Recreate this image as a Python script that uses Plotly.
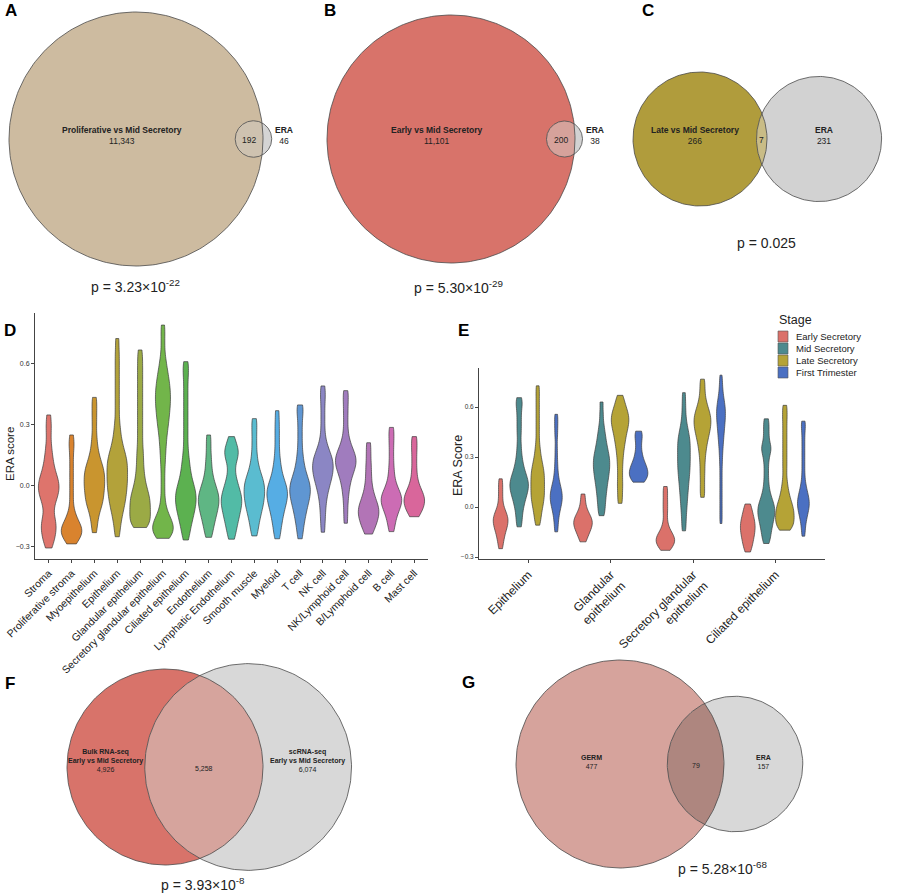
import numpy as np
import plotly.graph_objects as go

# ---------------- Venn panels (A, B, C, F, G) ----------------
VENN_LEFT_LABELS = ["Proliferative vs Mid Secretory", "Early vs Mid Secretory", "Late vs Mid Secretory",
                    "Bulk RNA-seq<br>Early vs Mid Secretory", "GERM"]
VENN_RIGHT_LABELS = ["ERA", "ERA", "ERA", "scRNA-seq<br>Early vs Mid Secretory", "ERA"]
VENN_LEFT_ONLY = [11343, 11101, 266, 4926, 477]
VENN_BOTH = [192, 200, 7, 5258, 79]
VENN_RIGHT_ONLY = [46, 38, 231, 6074, 157]
VENN_P = ["3.23×10<sup>-22</sup>", "5.30×10<sup>-29</sup>", "0.025", "3.93×10<sup>-8</sup>", "5.28×10<sup>-68</sup>"]

# ---------------- D: ERA score per cell type ----------------
D_CELLS = ["Stroma", "Proliferative stroma", "Myoepithelium", "Epithelium", "Glandular epithelium",
           "Secretory glandular epithelium", "Ciliated epithelium", "Endothelium", "Lymphatic Endothelium",
           "Smooth muscle", "Myeloid", "T cell", "NK cell", "NK/Lymphoid cell", "B/Lymphoid cell", "B cell",
           "Mast cell"]

d_stroma = [-0.305, -0.28, -0.26, -0.243, -0.228, -0.214, -0.2, -0.186, -0.172, -0.158, -0.135, -0.11, -0.09,
            -0.074, -0.06, -0.048, -0.037, -0.027, -0.017, -0.007, 0.003, 0.013, 0.023, 0.034, 0.046, 0.06, 0.076,
            0.095, 0.117, 0.142, 0.172, 0.21, 0.26, 0.3, 0.346]
d_prolif = [-0.285, -0.27, -0.258, -0.249, -0.241, -0.234, -0.227, -0.22, -0.213, -0.206, -0.198, -0.189, -0.178,
            -0.164, -0.145, -0.12, -0.07, -0.02, 0.03, 0.08, 0.13, 0.18, 0.21, 0.248]
d_myo = [-0.23, -0.19, -0.16, -0.135, -0.115, -0.1, -0.088, -0.077, -0.066, -0.054, -0.042, -0.031, -0.021, -0.011,
         -0.001, 0.009, 0.019, 0.029, 0.039, 0.049, 0.059, 0.069, 0.079, 0.09, 0.102, 0.116, 0.132, 0.152, 0.178,
         0.21, 0.25, 0.3, 0.345, 0.39, 0.432]
d_epi = [-0.25, -0.21, -0.18, -0.155, -0.135, -0.118, -0.103, -0.089, -0.076, -0.064, -0.052, -0.041, -0.03, -0.019,
         -0.008, 0.002, 0.012, 0.022, 0.032, 0.042, 0.052, 0.062, 0.072, 0.082, 0.092, 0.102, 0.112, 0.122, 0.132,
         0.143, 0.155, 0.168, 0.183, 0.2, 0.22, 0.245, 0.275, 0.31, 0.36, 0.41, 0.46, 0.51, 0.56, 0.61, 0.66, 0.72]
d_gland = [-0.205, -0.198, -0.19, -0.181, -0.171, -0.161, -0.151, -0.141, -0.131, -0.121, -0.111, -0.101, -0.091,
           -0.081, -0.071, -0.061, -0.051, -0.04, -0.028, -0.014, 0.002, 0.02, 0.04, 0.065, 0.09, 0.12, 0.15, 0.18,
           0.22, 0.26, 0.3, 0.34, 0.38, 0.42, 0.46, 0.5, 0.54, 0.58, 0.62, 0.664]
d_secr = [-0.258, -0.25, -0.242, -0.234, -0.226, -0.218, -0.21, -0.202, -0.194, -0.186, -0.178, -0.169, -0.158,
          -0.144, -0.125, -0.1, -0.06, -0.01, 0.04, 0.09, 0.13, 0.165, 0.195, 0.222, 0.246, 0.268, 0.286, 0.303,
          0.319, 0.334, 0.348, 0.362, 0.375, 0.388, 0.4, 0.412, 0.424, 0.436, 0.448, 0.46, 0.472, 0.485, 0.498,
          0.512, 0.527, 0.543, 0.561, 0.582, 0.607, 0.64, 0.69, 0.74, 0.786]
d_cil = [-0.266, -0.235, -0.21, -0.19, -0.172, -0.157, -0.143, -0.13, -0.118, -0.107, -0.096, -0.086, -0.076,
         -0.066, -0.056, -0.046, -0.036, -0.026, -0.015, -0.003, 0.01, 0.025, 0.042, 0.062, 0.085, 0.11, 0.14, 0.18,
         0.23, 0.28, 0.33, 0.38, 0.43, 0.48, 0.53, 0.57, 0.607]
d_endo = [-0.253, -0.225, -0.2, -0.18, -0.163, -0.148, -0.134, -0.121, -0.109, -0.098, -0.087, -0.077, -0.067,
          -0.057, -0.047, -0.036, -0.024, -0.011, 0.004, 0.022, 0.045, 0.075, 0.11, 0.15, 0.2, 0.248]
d_lymph = [-0.262, -0.23, -0.205, -0.184, -0.166, -0.15, -0.135, -0.121, -0.108, -0.096, -0.085, -0.074, -0.063,
           -0.052, -0.04, -0.027, -0.012, 0.005, 0.025, 0.05, 0.085, 0.12, 0.14, 0.155, 0.17, 0.185, 0.205, 0.24]
d_smooth = [-0.246, -0.215, -0.19, -0.168, -0.15, -0.134, -0.12, -0.107, -0.095, -0.084, -0.073, -0.062, -0.052,
            -0.042, -0.032, -0.022, -0.012, -0.002, 0.008, 0.018, 0.029, 0.041, 0.055, 0.072, 0.093, 0.12, 0.155,
            0.2, 0.245, 0.29, 0.328]
d_myeloid = [-0.26, -0.225, -0.197, -0.174, -0.154, -0.136, -0.12, -0.106, -0.093, -0.081, -0.07, -0.06, -0.05,
             -0.04, -0.03, -0.02, -0.01, 0.001, 0.013, 0.027, 0.044, 0.065, 0.09, 0.12, 0.16, 0.21, 0.26, 0.31,
             0.367]
d_tcell = [-0.26, -0.22, -0.19, -0.165, -0.145, -0.127, -0.111, -0.096, -0.083, -0.071, -0.06, -0.049, -0.039,
           -0.029, -0.019, -0.009, 0.001, 0.011, 0.022, 0.034, 0.048, 0.065, 0.085, 0.11, 0.14, 0.18, 0.23, 0.28,
           0.33, 0.37, 0.395]
d_nk = [-0.228, -0.18, -0.14, -0.105, -0.075, -0.05, -0.03, -0.013, 0.002, 0.015, 0.027, 0.038, 0.048, 0.058,
        0.067, 0.076, 0.085, 0.094, 0.103, 0.112, 0.121, 0.13, 0.14, 0.15, 0.162, 0.177, 0.196, 0.22, 0.26, 0.31,
        0.36, 0.41, 0.45, 0.488]
d_nklymph = [-0.184, -0.13, -0.08, -0.04, -0.01, 0.015, 0.035, 0.052, 0.066, 0.078, 0.089, 0.099, 0.108, 0.117,
             0.126, 0.135, 0.144, 0.154, 0.165, 0.178, 0.194, 0.215, 0.245, 0.29, 0.34, 0.385, 0.43, 0.465]
d_blymph = [-0.237, -0.215, -0.198, -0.183, -0.17, -0.158, -0.147, -0.137, -0.127, -0.117, -0.107, -0.096, -0.084,
            -0.07, -0.053, -0.032, -0.005, 0.03, 0.07, 0.11, 0.16, 0.21]
d_bcell = [-0.225, -0.19, -0.163, -0.142, -0.125, -0.111, -0.099, -0.089, -0.08, -0.071, -0.062, -0.053, -0.043,
           -0.032, -0.018, 0.0, 0.025, 0.06, 0.1, 0.15, 0.2, 0.245, 0.285]
d_mast = [-0.152, -0.135, -0.121, -0.109, -0.098, -0.088, -0.079, -0.07, -0.061, -0.052, -0.042, -0.03, -0.015,
          0.005, 0.035, 0.075, 0.12, 0.165, 0.205, 0.24]

# ---------------- E: ERA score by stage ----------------
E_CELLS = ["Epithelium", "Glandular epithelium", "Secretory glandular epithelium", "Ciliated epithelium"]
E_TICKS = ["Epithelium", "Glandular<br>epithelium", "Secretory glandular<br>epithelium", "Ciliated epithelium"]
E_STAGES = ["Early Secretory", "Mid Secretory", "Late Secretory", "First Trimester"]

e_epi_early = [-0.25, -0.215, -0.188, -0.166, -0.148, -0.133, -0.12, -0.108, -0.097, -0.087, -0.077, -0.067,
               -0.057, -0.046, -0.033, -0.016, 0.01, 0.05, 0.09, 0.13, 0.169]
e_epi_mid = [-0.119, -0.08, -0.045, -0.015, 0.01, 0.03, 0.048, 0.064, 0.078, 0.091, 0.103, 0.114, 0.125, 0.136,
             0.147, 0.158, 0.17, 0.183, 0.198, 0.215, 0.235, 0.26, 0.29, 0.33, 0.38, 0.44, 0.49, 0.54, 0.59, 0.625,
             0.656]
e_epi_late = [-0.109, -0.08, -0.055, -0.033, -0.014, 0.003, 0.018, 0.032, 0.045, 0.057, 0.069, 0.081, 0.093,
              0.105, 0.117, 0.129, 0.141, 0.153, 0.165, 0.177, 0.189, 0.201, 0.213, 0.226, 0.24, 0.255, 0.272,
              0.292, 0.316, 0.345, 0.38, 0.43, 0.48, 0.53, 0.58, 0.63, 0.68, 0.727]
e_epi_first = [-0.149, -0.11, -0.075, -0.048, -0.026, -0.008, 0.007, 0.02, 0.032, 0.043, 0.054, 0.065, 0.076,
               0.087, 0.099, 0.112, 0.127, 0.145, 0.168, 0.2, 0.24, 0.29, 0.35, 0.42, 0.47, 0.515, 0.556]
e_gland_early = [-0.209, -0.18, -0.16, -0.143, -0.129, -0.117, -0.106, -0.096, -0.086, -0.076, -0.065, -0.052,
                 -0.035, -0.01, 0.03, 0.078]
e_gland_mid = [-0.052, -0.02, 0.01, 0.038, 0.063, 0.086, 0.107, 0.127, 0.145, 0.162, 0.178, 0.193, 0.207, 0.221,
               0.234, 0.247, 0.26, 0.273, 0.286, 0.299, 0.313, 0.328, 0.344, 0.362, 0.382, 0.405, 0.43, 0.46, 0.5,
               0.56, 0.63]
e_gland_late = [0.022, 0.07, 0.115, 0.155, 0.2, 0.245, 0.285, 0.32, 0.35, 0.375, 0.397, 0.417, 0.435, 0.452,
                0.467, 0.481, 0.494, 0.506, 0.518, 0.53, 0.542, 0.554, 0.567, 0.581, 0.597, 0.617, 0.64, 0.67]
e_gland_first = [0.149, 0.158, 0.167, 0.176, 0.185, 0.194, 0.203, 0.212, 0.221, 0.23, 0.24, 0.251, 0.264, 0.28,
                 0.3, 0.325, 0.355, 0.39, 0.42, 0.44, 0.455]
e_secr_early = [-0.26, -0.245, -0.233, -0.223, -0.214, -0.206, -0.198, -0.19, -0.182, -0.173, -0.162, -0.148,
                -0.125, -0.09, -0.04, 0.0, 0.04, 0.085, 0.123]
e_secr_mid = [-0.143, -0.1, -0.06, -0.025, 0.005, 0.032, 0.057, 0.08, 0.101, 0.121, 0.14, 0.158, 0.175, 0.191,
              0.206, 0.221, 0.236, 0.25, 0.264, 0.278, 0.292, 0.306, 0.32, 0.334, 0.348, 0.362, 0.376, 0.39, 0.404,
              0.419, 0.435, 0.453, 0.474, 0.5, 0.535, 0.58, 0.63, 0.686]
e_secr_late = [0.058, 0.1, 0.145, 0.19, 0.23, 0.27, 0.305, 0.335, 0.36, 0.382, 0.401, 0.418, 0.433, 0.447, 0.46,
               0.472, 0.484, 0.495, 0.506, 0.517, 0.528, 0.539, 0.55, 0.562, 0.575, 0.59, 0.607, 0.628, 0.655, 0.69,
               0.73, 0.767]
e_secr_first = [-0.099, -0.05, 0.0, 0.05, 0.1, 0.15, 0.2, 0.25, 0.29, 0.325, 0.355, 0.38, 0.402, 0.422, 0.44,
                0.457, 0.473, 0.488, 0.502, 0.515, 0.528, 0.54, 0.552, 0.564, 0.576, 0.588, 0.6, 0.613, 0.627,
                0.643, 0.662, 0.685, 0.715, 0.75, 0.791]
e_cil_early = [-0.27, -0.245, -0.225, -0.207, -0.191, -0.176, -0.162, -0.149, -0.137, -0.125, -0.113, -0.101,
               -0.089, -0.076, -0.062, -0.046, -0.027, -0.005, 0.018]
e_cil_mid = [-0.219, -0.19, -0.165, -0.143, -0.123, -0.105, -0.089, -0.074, -0.06, -0.047, -0.035, -0.023, -0.011,
             0.001, 0.014, 0.028, 0.044, 0.064, 0.09, 0.125, 0.17, 0.22, 0.27, 0.31, 0.34, 0.355, 0.37, 0.41, 0.45,
             0.49, 0.529]
e_cil_late = [-0.139, -0.128, -0.117, -0.106, -0.095, -0.084, -0.073, -0.062, -0.051, -0.04, -0.029, -0.018,
              -0.007, 0.005, 0.018, 0.033, 0.05, 0.07, 0.095, 0.125, 0.165, 0.22, 0.27, 0.32, 0.37, 0.42, 0.47,
              0.52, 0.565, 0.61]
e_cil_first = [-0.175, -0.135, -0.1, -0.075, -0.055, -0.038, -0.024, -0.011, 0.001, 0.012, 0.023, 0.034, 0.045,
               0.057, 0.07, 0.085, 0.103, 0.125, 0.155, 0.2, 0.25, 0.3, 0.35, 0.4, 0.45, 0.49, 0.515]

D_SAMPLES = [d_stroma, d_prolif, d_myo, d_epi, d_gland, d_secr, d_cil, d_endo, d_lymph, d_smooth, d_myeloid,
             d_tcell, d_nk, d_nklymph, d_blymph, d_bcell, d_mast]
E_SAMPLES = [
    [e_epi_early, e_gland_early, e_secr_early, e_cil_early],
    [e_epi_mid, e_gland_mid, e_secr_mid, e_cil_mid],
    [e_epi_late, e_gland_late, e_secr_late, e_cil_late],
    [e_epi_first, e_gland_first, e_secr_first, e_cil_first],
]

D_COLORS = ["#DE746C", "#D9832E", "#C9952F", "#B3A23A", "#9BAA45", "#72B54A", "#5CB150", "#5FB684", "#52BBA6",
            "#5ABCD0", "#56ADE4", "#5F96D2", "#8B86C4", "#A07CBE", "#B274B6", "#CC6CB4", "#D9669B"]
E_COLORS = ["#DB716A", "#4D8A8E", "#B5A336", "#4B70C2"]

FONT = "Liberation Sans, Arial, sans-serif"
OUTLINE = "#3c3c3c"
W, H = 900, 896
BW = 0.033

fig = go.Figure()

# ---------------- violins ----------------
for cell, vals, col in zip(D_CELLS, D_SAMPLES, D_COLORS):
    fig.add_trace(go.Violin(
        x=[cell] * len(vals), y=vals, xaxis="x", yaxis="y",
        fillcolor=col, line=dict(color=OUTLINE, width=0.7), opacity=1,
        points=False, spanmode="hard", bandwidth=BW, scalemode="width",
        offsetgroup="d", alignmentgroup="d", showlegend=False, hoverinfo="skip",
    ))

for stage, per_cell, col in zip(E_STAGES, E_SAMPLES, E_COLORS):
    xs, ys = [], []
    for cell, vals in zip(E_CELLS, per_cell):
        xs += [cell] * len(vals)
        ys += vals
    fig.add_trace(go.Violin(
        x=xs, y=ys, xaxis="x2", yaxis="y2", name=stage,
        fillcolor=col, line=dict(color=OUTLINE, width=0.7), opacity=1,
        points=False, spanmode="hard", bandwidth=BW, scalemode="width",
        offsetgroup=stage, alignmentgroup="e", showlegend=False, hoverinfo="skip",
    ))


# ---------------- area-proportional Venns (pixel overlay axis x3/y3) ----------------
def lens_area(d, r1, r2):
    if d >= r1 + r2:
        return 0.0
    if d <= abs(r1 - r2):
        return np.pi * min(r1, r2) ** 2
    a1 = r1 ** 2 * np.arccos((d * d + r1 * r1 - r2 * r2) / (2 * d * r1))
    a2 = r2 ** 2 * np.arccos((d * d + r2 * r2 - r1 * r1) / (2 * d * r2))
    k = 0.5 * np.sqrt((-d + r1 + r2) * (d + r1 - r2) * (d - r1 + r2) * (d + r1 + r2))
    return a1 + a2 - k


def solve_distance(r1, r2, target):
    lo, hi = abs(r1 - r2), r1 + r2
    for _ in range(80):
        mid = (lo + hi) / 2
        if lens_area(mid, r1, r2) > target:
            lo = mid
        else:
            hi = mid
    return (lo + hi) / 2


# layout of each venn: left circle centre, left radius (px), label font size, outside right label,
# p-value position, colours (left, right, overlap)
venn_layout = [
    dict(cx=136, cy=139, R=127, fs=8.5, outside=True, p=(135, 286), cols=("#CDBBA0", "#D4D4D4", "#CEC2B0")),
    dict(cx=451, cy=139, R=124, fs=8.5, outside=True, p=(458, 287), cols=("#D8736A", "#D2D2D2", "#D6A29B")),
    dict(cx=700, cy=139, R=67, fs=8.5, outside=False, p=(766, 243), cols=("#B09C3C", "#D2D2D2", "#C9BC86")),
    dict(cx=165, cy=767, R=98, fs=7, outside=False, p=(203, 884), cols=("#D8736A", "#D8D8D8", "#D6A49D")),
    dict(cx=620, cy=764, R=104, fs=7, outside=False, p=(722, 868), cols=("#D6A39C", "#D8D8D8", "#AE867F")),
]

annotations = []
ang = np.linspace(0, 2 * np.pi, 241)
for i, lay in enumerate(venn_layout):
    n1 = VENN_LEFT_ONLY[i] + VENN_BOTH[i]
    n2 = VENN_RIGHT_ONLY[i] + VENN_BOTH[i]
    r1 = lay["R"]
    r2 = r1 * np.sqrt(n2 / n1)
    d = solve_distance(r1, r2, np.pi * r1 ** 2 * VENN_BOTH[i] / n1)
    x1, cy = lay["cx"], lay["cy"]
    x2 = x1 + d
    c1, c2, c12 = lay["cols"]

    fig.add_trace(go.Scatter(x=x1 + r1 * np.cos(ang), y=cy + r1 * np.sin(ang), fill="toself", fillcolor=c1,
                             mode="lines", line=dict(width=0), xaxis="x3", yaxis="y3", showlegend=False,
                             hoverinfo="skip"))
    fig.add_trace(go.Scatter(x=x2 + r2 * np.cos(ang), y=cy + r2 * np.sin(ang), fill="toself", fillcolor=c2,
                             mode="lines", line=dict(width=0), xaxis="x3", yaxis="y3", showlegend=False,
                             hoverinfo="skip"))
    a = (d * d + r1 * r1 - r2 * r2) / (2 * d)
    h = np.sqrt(max(r1 * r1 - a * a, 0))
    t1 = np.arctan2(h, a)
    t2 = np.arctan2(h, d - a)
    arc1 = np.linspace(-t1, t1, 120)
    arc2 = np.linspace(np.pi - t2, np.pi + t2, 120)
    lx = np.concatenate([x1 + r1 * np.cos(arc1), x2 + r2 * np.cos(arc2)])
    ly = np.concatenate([cy + r1 * np.sin(arc1), cy + r2 * np.sin(arc2)])
    fig.add_trace(go.Scatter(x=lx, y=ly, fill="toself", fillcolor=c12, mode="lines", line=dict(width=0),
                             xaxis="x3", yaxis="y3", showlegend=False, hoverinfo="skip"))
    for xc, rc in ((x1, r1), (x2, r2)):
        fig.add_trace(go.Scatter(x=xc + rc * np.cos(ang), y=cy + rc * np.sin(ang), mode="lines",
                                 line=dict(color="#4a4a4a", width=0.8), xaxis="x3", yaxis="y3",
                                 showlegend=False, hoverinfo="skip"))

    fs = lay["fs"]
    lh = 1.25 * fs
    left_txt = VENN_LEFT_LABELS[i]
    right_txt = VENN_RIGHT_LABELS[i]
    nl = left_txt.count("<br>") + 2
    nr = right_txt.count("<br>") + 2
    left_x = ((x1 - r1) + (x2 - r2)) / 2
    right_x = ((x1 + r1) + (x2 + r2)) / 2
    mid_x = ((x2 - r2) + (x1 + r1)) / 2
    lbl = "<b>" + left_txt.replace("<br>", "</b><br><b>") + "</b><br>" + f"{VENN_LEFT_ONLY[i]:,}"
    annotations.append(dict(x=left_x, y=cy + 2 - (nl - 1) * lh / 2, text=lbl, showarrow=False,
                            xref="x3", yref="y3", xanchor="center", yanchor="middle",
                            font=dict(size=fs, color="#222", family=FONT)))
    rbl = "<b>" + right_txt.replace("<br>", "</b><br><b>") + "</b><br>" + f"{VENN_RIGHT_ONLY[i]:,}"
    if lay["outside"]:
        annotations.append(dict(x=x2 + r2 + 1, y=cy + 2 - (nr - 1) * lh / 2, text=rbl, showarrow=False,
                                xref="x3", yref="y3", xanchor="left", yanchor="middle", align="center",
                                font=dict(size=fs, color="#222", family=FONT)))
    else:
        annotations.append(dict(x=right_x, y=cy + 2 - (nr - 1) * lh / 2, text=rbl, showarrow=False,
                                xref="x3", yref="y3", xanchor="center", yanchor="middle",
                                font=dict(size=fs, color="#222", family=FONT)))
    annotations.append(dict(x=mid_x, y=cy + 1, text=f"{VENN_BOTH[i]:,}", showarrow=False,
                            xref="x3", yref="y3", xanchor="center", yanchor="middle",
                            font=dict(size=fs, color="#222", family=FONT)))
    px, py = lay["p"]
    annotations.append(dict(x=px, y=py, text="p = " + VENN_P[i], showarrow=False, xref="x3", yref="y3",
                            xanchor="center", yanchor="middle", font=dict(size=14, color="#222", family=FONT)))

# panel letters
for letter, (lx_, ly_) in zip("ABCDEFG", [(3, 10), (322, 10), (640, 10), (2, 330), (456, 330), (3, 683),
                                          (460, 682)]):
    annotations.append(dict(x=lx_, y=ly_, text=f"<b>{letter}</b>", showarrow=False, xref="x3", yref="y3",
                            xanchor="left", yanchor="middle", font=dict(size=17, color="#000", family=FONT)))

# axis titles
annotations.append(dict(x=10, y=454, text="ERA score", textangle=-90, showarrow=False, xref="x3", yref="y3",
                        font=dict(size=11.5, color="#222", family=FONT)))
annotations.append(dict(x=458, y=466, text="ERA Score", textangle=-90, showarrow=False, xref="x3", yref="y3",
                        font=dict(size=12.5, color="#222", family=FONT)))

# legend for E (ggplot style keys)
annotations.append(dict(x=777, y=320, text="Stage", showarrow=False, xref="x3", yref="y3", xanchor="left",
                        yanchor="middle", font=dict(size=12.5, color="#222", family=FONT)))
shapes = []
for j, (stage, col) in enumerate(zip(E_STAGES, E_COLORS)):
    top = 331 + 12 * j
    shapes.append(dict(type="rect", xref="x3", yref="y3", x0=778, x1=788, y0=top, y1=top + 11,
                       fillcolor=col, line=dict(color="#555", width=0.6)))
    annotations.append(dict(x=794, y=top + 5.5, text=stage, showarrow=False, xref="x3", yref="y3",
                            xanchor="left", yanchor="middle", font=dict(size=9.5, color="#222", family=FONT)))

axis_style = dict(showgrid=False, zeroline=False, showline=True, linecolor="#444", linewidth=1,
                  ticks="outside", ticklen=3, tickcolor="#444", mirror=False, automargin=False)

fig.update_layout(
    template="none",
    width=W, height=H, margin=dict(l=0, r=0, t=0, b=0, pad=0), autosize=False,
    paper_bgcolor="white", plot_bgcolor="rgba(0,0,0,0)",
    violinmode="group", violingap=0.1, violingroupgap=0,
    showlegend=False, font=dict(family=FONT),
    xaxis=dict(domain=[35 / W, 428 / W], anchor="y", type="category", categoryorder="array",
               categoryarray=D_CELLS, range=[-0.6, 16.6], tickangle=-45,
               tickfont=dict(size=10.5, color="#222"), **axis_style),
    yaxis=dict(domain=[1 - 559 / H, 1 - 313 / H], anchor="x", range=[-0.359, 0.845],
               tickvals=[-0.3, 0.0, 0.3, 0.6], tickformat=".1f", tickfont=dict(size=7, color="#333"),
               **axis_style),
    xaxis2=dict(domain=[479 / W, 825 / W], anchor="y2", type="category", categoryorder="array",
                categoryarray=E_CELLS, range=[-0.6, 3.6], tickmode="array", tickvals=E_CELLS,
                ticktext=E_TICKS, tickangle=-45, tickfont=dict(size=12, color="#222"), **axis_style),
    yaxis2=dict(domain=[1 - 559 / H, 1 - 368 / H], anchor="x2", range=[-0.312, 0.834],
                tickvals=[-0.3, 0.0, 0.3, 0.6], tickformat=".1f", tickfont=dict(size=6.5, color="#333"),
                **axis_style),
    xaxis3=dict(domain=[0, 1], range=[0, W], visible=False, anchor="y3", automargin=False),
    yaxis3=dict(domain=[0, 1], range=[H, 0], visible=False, anchor="x3", automargin=False),
    annotations=annotations,
    shapes=shapes,
)

fig.write_html("out.html", config={"displayModeBar": False},
               post_script="document.body.style.margin='0px';")
